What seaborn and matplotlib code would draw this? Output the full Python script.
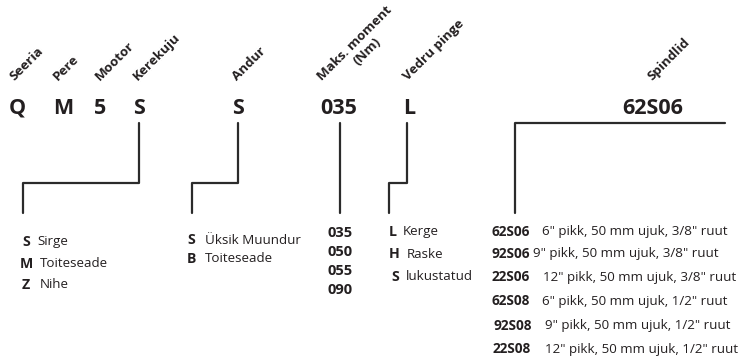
import matplotlib
matplotlib.use("Agg")
import matplotlib.pyplot as plt
import seaborn as sns

# ---- content ----
headers = ["Seeria", "Pere", "Mootor", "Kerekuju", "Andur", "Maks. moment", "Vedru pinge", "Spindlid"]
header_sub = "(Nm)"
codes = ["Q", "M", "5", "S", "S", "035", "L", "62S06"]

shape_keys = ["S", "M", "Z"]
shape_vals = ["Sirge", "Toiteseade", "Nihe"]
sensor_keys = ["S", "B"]
sensor_vals = ["Üksik Muundur", "Toiteseade"]
torque_vals = ["035", "050", "055", "090"]
spring_keys = ["L", "H", "S"]
spring_vals = ["Kerge", "Raske", "lukustatud"]
spindle_keys = ["62S06", "92S06", "22S06", "62S08", "92S08", "22S08"]
spindle_vals = ['6" pikk, 50 mm ujuk, 3/8" ruut', '9" pikk, 50 mm ujuk, 3/8" ruut',
                '12" pikk, 50 mm ujuk, 3/8" ruut', '6" pikk, 50 mm ujuk, 1/2" ruut',
                '9" pikk, 50 mm ujuk, 1/2" ruut', '12" pikk, 50 mm ujuk, 1/2" ruut']

# ---- layout ----
TXT = "#231f20"
LINE = "#2b2b2b"
FONT = "Open Sans"
header_x = [14, 58, 100, 138, 237, 322, 408, 652]
header_y = 81
code_x = [17, 63, 100, 139, 238, 339, 409, 653]
code_y = 108
ROT = 45

sns.set_theme(style="white")
plt.rcParams['font.family'] = [FONT, 'DejaVu Sans']

fig = plt.figure(figsize=(7.40, 3.61), dpi=100)
ax = fig.add_axes([0, 0, 1, 1])

# connectors
paths = [
    ([139, 139, 23, 23], [123, 183, 183, 213]),
    ([238, 238, 192, 192], [123, 183, 183, 213]),
    ([340, 340], [123, 213]),
    ([407, 407, 389, 389], [123, 183, 183, 213]),
    ([725, 515, 515], [123, 123, 213]),
]
for xs, ys in paths:
    sns.lineplot(x=xs, y=ys, sort=False, estimator=None, color=LINE, linewidth=1.6, ax=ax)
ax.set_xlim(0, 740)
ax.set_ylim(361, 0)
ax.axis("off")

for h, x in zip(headers, header_x):
    ax.text(x, header_y, h, rotation=ROT, rotation_mode="anchor", ha="left", va="baseline",
            fontsize=9.6, fontweight="bold", color=TXT)
ax.text(358, 66, header_sub, rotation=ROT, rotation_mode="anchor", ha="left", va="baseline",
        fontsize=9.6, fontweight="bold", color=TXT)

for c, x in zip(codes, code_x):
    ax.text(x, code_y, c, ha="center", va="center", fontsize=15.5, fontweight="bold", color=TXT)

fs = 9.6
fb = 10.2
# shape
sh_kx = [22, 20, 22]
sh_vx = [37, 40, 40]
for i, (k, v) in enumerate(zip(shape_keys, shape_vals)):
    y = 242 + i * 21.5
    ax.text(sh_kx[i], y, k, ha="left", va="center", fontsize=fb, fontweight="bold", color=TXT)
    ax.text(sh_vx[i], y, v, ha="left", va="center", fontsize=fs, color=TXT)
# sensor
for i, (k, v) in enumerate(zip(sensor_keys, sensor_vals)):
    y = 240 + i * 19
    ax.text(187, y, k, ha="left", va="center", fontsize=fb, fontweight="bold", color=TXT)
    ax.text(205, y, v, ha="left", va="center", fontsize=fs, color=TXT)
# torque
for i, v in enumerate(torque_vals):
    y = 233 + i * 19
    ax.text(340, y, v, ha="center", va="center", fontsize=10.5, fontweight="bold", color=TXT)
# spring
spr_kx = [389, 389, 391]
spr_vx = [403, 407, 406]
for i, (k, v) in enumerate(zip(spring_keys, spring_vals)):
    y = 232 + i * 22.5
    ax.text(spr_kx[i], y, k, ha="left", va="center", fontsize=fb, fontweight="bold", color=TXT)
    ax.text(spr_vx[i], y, v, ha="left", va="center", fontsize=fs, color=TXT)
# spindles
sp_y = [232, 254, 277, 301, 326, 349]
sp_kx = [492, 492, 492, 492, 493, 493]
sp_vx = [542, 533, 543, 542, 545, 545]
for k, v, y, kx, vx in zip(spindle_keys, spindle_vals, sp_y, sp_kx, sp_vx):
    ax.text(kx, y, k, ha="left", va="center", fontsize=9.8, fontweight="bold", color=TXT)
    ax.text(vx, y, v, ha="left", va="center", fontsize=fs, color=TXT)

fig.savefig("out.png", dpi=100, facecolor="white")
